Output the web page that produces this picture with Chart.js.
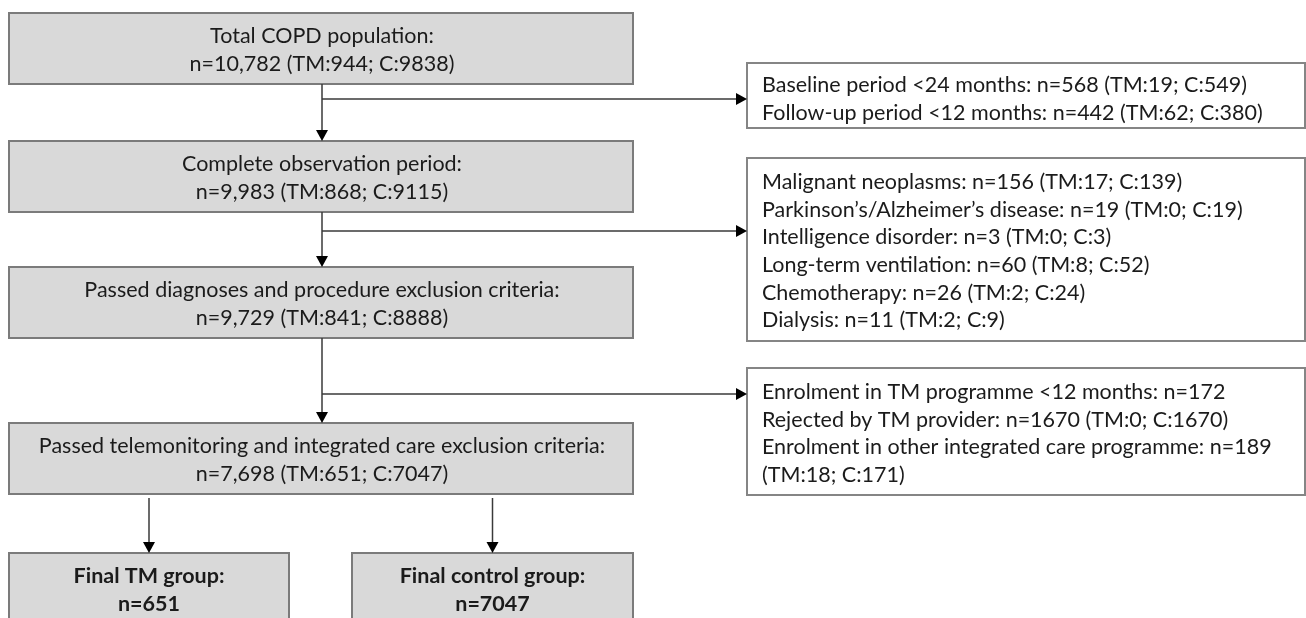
<!DOCTYPE html>
<html>
<head>
<meta charset="utf-8">
<script src="https://cdn.jsdelivr.net/npm/chart.js@4"></script>
<style>
  body { margin: 0; background: #fff; }
  #wrap { width: 1306px; height: 618px; }
</style>
</head>
<body>
<div id="wrap"><canvas id="flow" width="1306" height="618"></canvas></div>
<script>
// main flow stages
const stageLabels = [
  'Total COPD population:',
  'Complete observation period:',
  'Passed diagnoses and procedure exclusion criteria:',
  'Passed telemonitoring and integrated care exclusion criteria:'
];
const stageTotal = [10782, 9983, 9729, 7698];
const stageTM = [944, 868, 841, 651];
const stageC = [9838, 9115, 8888, 7047];

// exclusions after stage 1
const excl1Labels = ['Baseline period <24 months', 'Follow-up period <12 months'];
const excl1N = [568, 442];
const excl1TM = [19, 62];
const excl1C = [549, 380];

// exclusions after stage 2
const excl2Labels = ['Malignant neoplasms', 'Parkinson\u2019s/Alzheimer\u2019s disease', 'Intelligence disorder',
  'Long-term ventilation', 'Chemotherapy', 'Dialysis'];
const excl2N = [156, 19, 3, 60, 26, 11];
const excl2TM = [17, 0, 0, 8, 2, 2];
const excl2C = [139, 19, 3, 52, 24, 9];

// exclusions after stage 3
const excl3Labels = ['Enrolment in TM programme <12 months', 'Rejected by TM provider', 'Enrolment in other integrated care programme'];
const excl3N = [172, 1670, 189];
const excl3TM = [null, 0, 18];
const excl3C = [null, 1670, 171];

// final groups
const groupLabels = ['Final TM group:', 'Final control group:'];
const groupN = [651, 7047];

const FONT = 'Lato, "Open Sans", sans-serif';
const FSIZE = '21.5px ';
const TEXT_COL = '#1b1b1b';

function split(tm, c) {
  return tm === null ? '' : ' (TM:' + tm + '; C:' + c + ')';
}
function exclLines(labels, n, tm, c) {
  return labels.map((l, i) => l + ': n=' + n[i] + split(tm[i], c[i]));
}

const flowPlugin = {
  id: 'flow',
  afterDraw(chart) {
    const ctx = chart.ctx;
    const xs = chart.scales.x, ys = chart.scales.y;
    const px = v => xs.getPixelForValue(v);
    const py = v => ys.getPixelForValue(v);

    function box(x0, y0, x1, y1, fill, stroke) {
      ctx.save();
      ctx.fillStyle = fill;
      ctx.strokeStyle = stroke;
      ctx.lineWidth = 2;
      ctx.fillRect(px(x0), py(y0), px(x1) - px(x0), py(y1) - py(y0));
      ctx.strokeRect(px(x0), py(y0), px(x1) - px(x0), py(y1) - py(y0));
      ctx.restore();
    }
    function text(str, x, y, align, bold) {
      ctx.save();
      ctx.font = (bold ? 'bold ' : '') + FSIZE + FONT;
      ctx.fillStyle = TEXT_COL;
      ctx.textAlign = align;
      ctx.textBaseline = 'middle';
      ctx.fillText(str, px(x), py(y));
      ctx.restore();
    }
    function wrap(lines, maxW) {
      ctx.save();
      ctx.font = FSIZE + FONT;
      const out = [];
      lines.forEach(line => {
        const words = line.split(' ');
        let cur = '';
        words.forEach(w => {
          const t = cur ? cur + ' ' + w : w;
          if (ctx.measureText(t).width > maxW && cur) {
            out.push(cur);
            cur = w;
          } else cur = t;
        });
        out.push(cur);
      });
      ctx.restore();
      return out;
    }
    function line(x0, y0, x1, y1) {
      ctx.save();
      ctx.strokeStyle = '#3a3a3a';
      ctx.lineWidth = 1.5;
      ctx.beginPath();
      ctx.moveTo(px(x0), py(y0));
      ctx.lineTo(px(x1), py(y1));
      ctx.stroke();
      ctx.restore();
    }
    function head(x, y, dir) {
      ctx.save();
      ctx.fillStyle = '#000';
      ctx.beginPath();
      const X = px(x), Y = py(y);
      if (dir === 'down') {
        ctx.moveTo(X, Y); ctx.lineTo(X - 6, Y - 11); ctx.lineTo(X + 6, Y - 11);
      } else {
        ctx.moveTo(X, Y); ctx.lineTo(X - 11, Y - 6); ctx.lineTo(X - 11, Y + 6);
      }
      ctx.closePath();
      ctx.fill();
      ctx.restore();
    }

    // main stages
    const stageTop = [13, 141, 267, 423];
    const stageH = 71;
    const gx0 = 9, gx1 = 633, cx = 322;
    stageLabels.forEach((lab, i) => {
      const t = stageTop[i];
      box(gx0, t, gx1, t + stageH, '#d9d9d9', '#7b7b7b');
      text(lab, cx, t + 23, 'center');
      text('n=' + stageTotal[i].toLocaleString('en-US') + ' (TM:' + stageTM[i] + '; C:' + stageC[i] + ')', cx, t + 51, 'center');
    });

    // spine arrows between stages
    for (let i = 0; i < 3; i++) {
      const y0 = stageTop[i] + stageH, y1 = stageTop[i + 1];
      line(cx, y0, cx, y1 - 10);
      head(cx, y1, 'down');
    }

    // exclusion boxes
    const rx0 = 747, rx1 = 1305, tx = 762;
    const excl = [
      { top: 63, bot: 128, branch: 99, first: 85, lines: exclLines(excl1Labels, excl1N, excl1TM, excl1C) },
      { top: 158, bot: 341, branch: 231, first: 182, lines: exclLines(excl2Labels, excl2N, excl2TM, excl2C) },
      { top: 368, bot: 495, branch: 394, first: 392, lines: wrap(exclLines(excl3Labels, excl3N, excl3TM, excl3C), 530) }
    ];
    excl.forEach(e => {
      box(rx0, e.top, rx1, e.bot, '#ffffff', '#858585');
      e.lines.forEach((l, j) => text(l, tx, e.first + j * 27.7, 'left'));
      line(cx, e.branch, rx0 - 10, e.branch);
      head(rx0, e.branch, 'right');
    });

    // final groups
    const gBox = [[9, 289], [352, 633]];
    groupLabels.forEach((lab, i) => {
      const [a, b] = gBox[i];
      const mid = (a + b) / 2;
      box(a, 553, b, 640, '#d9d9d9', '#7b7b7b');
      text(lab, mid, 576, 'center', true);
      text('n=' + groupN[i], mid, 604, 'center', true);
      line(mid, 498, mid, 543);
      head(mid, 553, 'down');
    });
  }
};

new Chart(document.getElementById('flow'), {
  type: 'scatter',
  data: { datasets: [{ data: [] }] },
  options: {
    responsive: false,
    animation: false,
    layout: { padding: 0 },
    plugins: { legend: { display: false }, tooltip: { enabled: false } },
    scales: {
      x: { type: 'linear', min: 0, max: 1306, display: false },
      y: { type: 'linear', min: 0, max: 618, reverse: true, display: false }
    }
  },
  plugins: [flowPlugin]
});
</script>
</body>
</html>
